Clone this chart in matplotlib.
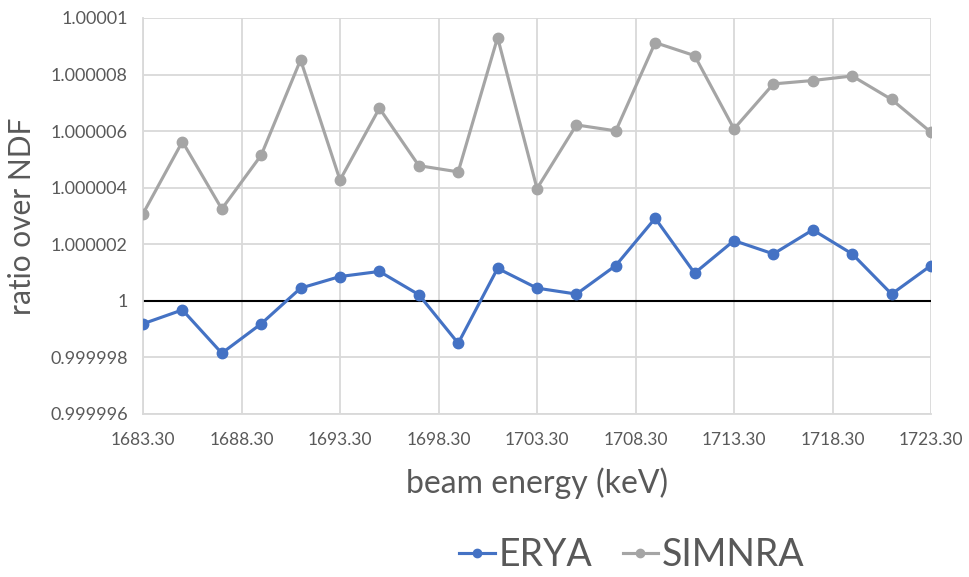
import matplotlib
matplotlib.use("Agg")
import matplotlib.pyplot as plt
import numpy as np

energy = [1683.3, 1685.3, 1687.3, 1689.3, 1691.3, 1693.3, 1695.3, 1697.3, 1699.3, 1701.3,
          1703.3, 1705.3, 1707.3, 1709.3, 1711.3, 1713.3, 1715.3, 1717.3, 1719.3, 1721.3, 1723.3]
# deviations from 1 in units of 1e-6
erya_dev = [-0.81, -0.32, -1.85, -0.81, 0.45, 0.86, 1.04, 0.22, -1.50, 1.15,
            0.45, 0.24, 1.25, 2.92, 0.98, 2.13, 1.66, 2.51, 1.66, 0.24, 1.25]
simnra_dev = [3.08, 5.63, 3.25, 5.15, 8.52, 4.27, 6.81, 4.78, 4.56, 9.31,
              3.97, 6.22, 6.01, 9.13, 8.67, 6.08, 7.67, 7.79, 7.95, 7.12, 5.96]
erya = [1 + d * 1e-6 for d in erya_dev]
simnra = [1 + d * 1e-6 for d in simnra_dev]

x_ticks = [1683.3, 1688.3, 1693.3, 1698.3, 1703.3, 1708.3, 1713.3, 1718.3, 1723.3]
x_tick_labels = ["1683.30", "1688.30", "1693.30", "1698.30", "1703.30",
                 "1708.30", "1713.30", "1718.30", "1723.30"]
y_ticks = [0.999996, 0.999998, 1.0, 1.000002, 1.000004, 1.000006, 1.000008, 1.00001]
y_tick_labels = ["0.999996", "0.999998", "1", "1.000002", "1.000004",
                 "1.000006", "1.000008", "1.00001"]

plt.rcParams['font.family'] = ['Lato', 'DejaVu Sans']

fig = plt.figure(figsize=(9.69, 5.77), dpi=100)
ax = fig.add_axes([143/969, 1 - 414/577, (931 - 143)/969, (414 - 18)/577])

grid_c = '#d9d9d9'
text_c = '#595959'

ax.plot(energy, simnra, color='#A5A5A5', lw=2.25, marker='o', ms=7.5, label='SIMNRA', zorder=3)
ax.plot(energy, erya, color='#4472C4', lw=2.25, marker='o', ms=7.5, label='ERYA', zorder=4)
ax.axhline(1.0, color='black', lw=1.5, zorder=2)

ax.set_xlim(x_ticks[0], x_ticks[-1])
ax.set_ylim(y_ticks[0], y_ticks[-1])
ax.set_xticks(x_ticks)
ax.set_xticklabels(x_tick_labels)
ax.set_yticks(y_ticks)
ax.set_yticklabels(y_tick_labels)
ax.grid(True, color=grid_c, lw=1.3, zorder=0)
ax.set_axisbelow(True)
for s in ['top', 'right']:
    ax.spines[s].set_visible(False)
for s in ['left', 'bottom']:
    ax.spines[s].set_color(grid_c)
    ax.spines[s].set_linewidth(1.3)
ax.tick_params(axis='x', length=0, colors=text_c, labelsize=12.5, pad=13)
ax.tick_params(axis='y', length=0, colors=text_c, labelsize=13, pad=11)

ax.set_xlabel('beam energy (keV)', fontsize=23, color=text_c, labelpad=14)
ax.set_ylabel('ratio over NDF', fontsize=21.5, color=text_c, labelpad=10)

h, l = ax.get_legend_handles_labels()
leg = fig.legend([h[1], h[0]], [l[1], l[0]], loc='center', ncol=2,
                 bbox_to_anchor=(632/969, 1 - 555/577), frameon=False,
                 fontsize=27, handlelength=0.95, columnspacing=0.8, handletextpad=0.1)
for t in leg.get_texts():
    t.set_color(text_c)
for lh in leg.legend_handles:
    lh.set_markersize(6)

fig.savefig('out.png', dpi=100, facecolor='white')
